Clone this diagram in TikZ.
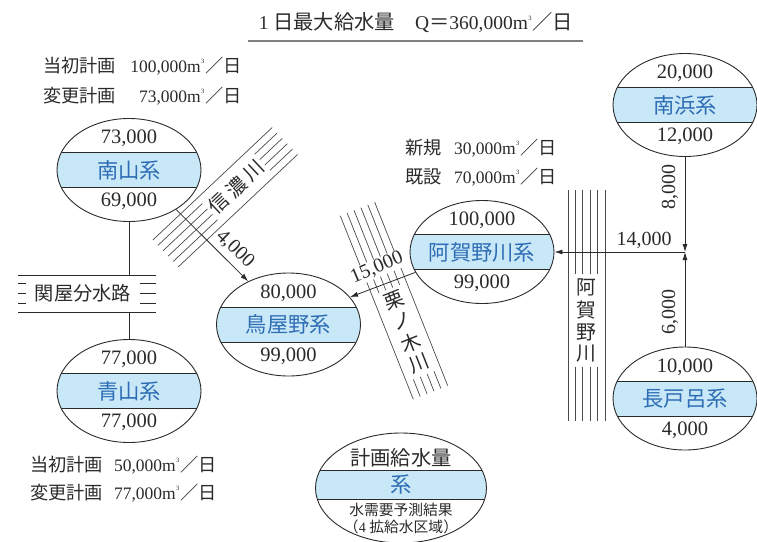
\documentclass[tikz,border=0pt]{standalone}
\usepackage{fontspec}
\setmainfont{Liberation Serif}
\newfontfamily\cjk[Scale=1.04]{Noto Sans CJK JP}
\usetikzlibrary{shapes.geometric,arrows.meta}
\newcommand\J[1]{{\cjk #1}}
\newcommand\cubm{m\kern0.3pt\raisebox{1.1ex}{\fontsize{6.5}{7}\selectfont 3}\kern1pt}
\definecolor{bandblue}{HTML}{C8E8F8}
\definecolor{txtblue}{HTML}{2E6DB4}
\definecolor{ink}{HTML}{2A2A2A}
\newcommand\sysbox[6]{%
  \node[sys] (#1) at (#2,#3) {};
  \node[numtxt] (#1-t) at ([yshift=31.5pt]#1.center) {#4};
  \node[bandtxt] (#1-m) at (#1.center) {#5};
  \node[numtxt] (#1-b) at ([yshift=-31.5pt]#1.center) {#6};}
\begin{document}
\begin{tikzpicture}[x=1pt,y=-1pt,
  sys/.style={ellipse, draw=ink, line width=0.9pt, minimum width=144pt, minimum height=103pt, inner sep=0pt,
    path picture={
      \fill[bandblue] ([xshift=-90pt,yshift=17.5pt]path picture bounding box.center) rectangle ([xshift=90pt,yshift=-17.5pt]path picture bounding box.center);
      \draw[ink,line width=1pt] ([xshift=-90pt,yshift=17.5pt]path picture bounding box.center) -- ([xshift=90pt,yshift=17.5pt]path picture bounding box.center);
      \draw[ink,line width=1pt] ([xshift=-90pt,yshift=-17.5pt]path picture bounding box.center) -- ([xshift=90pt,yshift=-17.5pt]path picture bounding box.center);
    }},
  legendsys/.style={ellipse, draw=ink, line width=0.9pt, minimum width=171pt, minimum height=110pt, inner sep=0pt,
    path picture={
      \fill[bandblue] ([xshift=-100pt,yshift=18pt]path picture bounding box.center) rectangle ([xshift=100pt,yshift=-11pt]path picture bounding box.center);
      \draw[ink,line width=1pt] ([xshift=-100pt,yshift=18pt]path picture bounding box.center) -- ([xshift=100pt,yshift=18pt]path picture bounding box.center);
      \draw[ink,line width=1pt] ([xshift=-100pt,yshift=-11pt]path picture bounding box.center) -- ([xshift=100pt,yshift=-11pt]path picture bounding box.center);
    }},
  numtxt/.style={font=\fontsize{20.5}{22}\selectfont, text=ink, inner sep=0pt},
  bandtxt/.style={font=\fontsize{20.5}{22}\selectfont\cjk, text=txtblue, inner sep=0pt},
  ann/.style={font=\fontsize{17.5}{20}\selectfont, text=ink, inner sep=0pt},
  flowlbl/.style={font=\fontsize{20}{22}\selectfont, text=ink, inner sep=1pt},
  flow/.style={draw=ink, line width=0.8pt, -{Latex[length=8pt,width=5pt]}},
  river/.style={draw=ink!85, line width=0.7pt},
  rivtxt/.style={font=\fontsize{19}{21}\selectfont\cjk, text=ink, inner sep=0pt},
  plain/.style={draw=ink, line width=0.8pt}
]
\useasboundingbox (0,0) rectangle (757,541);

% title
\node[font=\fontsize{19.5}{22}\selectfont, text=ink, inner sep=0pt] (title) at (416,23)
  {1\J{ 日最大給水量　}Q\J{＝}360,000\cubm\J{／日}};
\draw[draw=gray, line width=1.6pt] (248,41) -- (583,41);

% annotations
\node[ann, anchor=west] (a1l) at (43,66) {\J{当初計画}};
\node[ann, anchor=east] (a1r) at (242,66) {100,000\cubm\J{／日}};
\node[ann, anchor=west] (a2l) at (43,96) {\J{変更計画}};
\node[ann, anchor=east] (a2r) at (242,96) {73,000\cubm\J{／日}};
\node[ann, anchor=west] (a3l) at (30,465) {\J{当初計画}};
\node[ann, anchor=east] (a3r) at (217,465) {50,000\cubm\J{／日}};
\node[ann, anchor=west] (a4l) at (30,493) {\J{変更計画}};
\node[ann, anchor=east] (a4r) at (217,493) {77,000\cubm\J{／日}};
\node[ann, anchor=west] (a5l) at (405,148) {\J{新規}};
\node[ann, anchor=east] (a5r) at (557,148) {30,000\cubm\J{／日}};
\node[ann, anchor=west] (a6l) at (405,177) {\J{既設}};
\node[ann, anchor=east] (a6r) at (557,177) {70,000\cubm\J{／日}};

% rivers: Shinano
\begin{scope}[shift={(165.5,253.5)}, rotate=43.3]
  \foreach \k in {-18.5,18.5} \draw[river] (0,\k) -- (164,\k);
  \foreach \k in {-11.1,-3.7,3.7,11.1} {\draw[river] (0,\k) -- (61,\k); \draw[river] (133,\k) -- (164,\k);}
  \node[rivtxt, rotate=43.3] (sh1) at (73,0) {信};
  \node[rivtxt, rotate=43.3] (sh2) at (97,0) {濃};
  \node[rivtxt, rotate=43.3] (sh3) at (121,0) {川};
\end{scope}
% Kurinoki
\begin{scope}[shift={(357.5,209)}, rotate=-68.3]
  \foreach \k in {-18.5,18.5} \draw[river] (0,\k) -- (197.5,\k);
  \foreach \k in {-11.1,-3.7,3.7,11.1} {\draw[river] (0,\k) -- (86,\k); \draw[river] (179,\k) -- (197.5,\k);}
  \node[rivtxt, rotate=21.7] (ku1) at (98,0) {栗};
  \node[rivtxt, rotate=21.7] (ku2) at (121,0) {ノ};
  \node[rivtxt, rotate=21.7] (ku3) at (144,0) {木};
  \node[rivtxt, rotate=21.7] (ku4) at (166,0) {川};
\end{scope}
% Agano river
\begin{scope}[shift={(586.5,190)}, rotate=-90]
  \foreach \k in {-18.5,18.5} \draw[river] (0,\k) -- (231,\k);
  \foreach \k in {-11.1,-3.7,3.7,11.1} {\draw[river] (0,\k) -- (84,\k); \draw[river] (177,\k) -- (231,\k);}
  \node[rivtxt] (ag1) at (97,0) {阿};
  \node[rivtxt] (ag2) at (120,0) {賀};
  \node[rivtxt] (ag3) at (142,0) {野};
  \node[rivtxt] (ag4) at (164,0) {川};
\end{scope}

% Sekiya channel
\draw[plain] (18,275) -- (156,275);
\draw[plain] (18,312) -- (156,312);
\foreach \yy in {283,293,303} {\draw[plain] (18,\yy) -- (26,\yy); \draw[plain] (140,\yy) -- (156,\yy);}
\node[font=\fontsize{18.5}{20}\selectfont\cjk, text=ink, inner sep=0pt] (sekiya) at (83,293) {関屋分水路};
\coordinate (sektop) at (129,275);
\coordinate (sekbot) at (129,312);

% systems
\sysbox{nanzan}{129}{170}{73,000}{南山系}{69,000}
\sysbox{aoyama}{129}{391}{77,000}{青山系}{77,000}
\sysbox{toriya}{288.5}{324.5}{80,000}{鳥屋野系}{99,000}
\sysbox{agano}{482}{252}{100,000}{阿賀野川系}{99,000}
\sysbox{nanhama}{685}{105}{20,000}{南浜系}{12,000}
\sysbox{nagato}{685}{398.5}{10,000}{長戸呂系}{4,000}

% legend
\node[legendsys] (legend) at (401,488) {};
\node[font=\fontsize{19.5}{21}\selectfont\cjk, text=ink, inner sep=0pt] (legend-t) at (401,458) {計画給水量};
\node[bandtxt] (legend-m) at (401,485) {系};
\node[font=\fontsize{14.2}{16}\selectfont\cjk, text=ink, inner sep=0pt] (legend-b1) at (401,510) {水需要予測結果};
\node[font=\fontsize{14.2}{16}\selectfont, text=ink, inner sep=0pt] (legend-b2) at (401,527) {\J{（}4 \J{拡給水区域）}};

% connections
\draw[plain] (nanzan.south) -- (sektop);
\draw[plain] (sekbot) -- (aoyama.north);
\draw[flow] (nanzan.-40) -- (toriya.133);
\node[flowlbl, rotate=-44] (l4000) at (235,249) {4,000};
\draw[flow] (agano.197) -- (toriya.24);
\node[flowlbl, rotate=23, fill=white] (l15000) at (377,268) {15,000};
\coordinate (J) at (685,252);
\draw[flow] (nanhama.south) -- (J);
\draw[flow] (nagato.north) -- (J);
\draw[flow] (J) -- (agano.east);
\node[flowlbl] (l14000) at (644,240) {14,000};
\node[flowlbl, rotate=90] (l8000) at (670,187) {8,000};
\node[flowlbl, rotate=90] (l6000) at (670,312) {6,000};
\end{tikzpicture}
\end{document}
